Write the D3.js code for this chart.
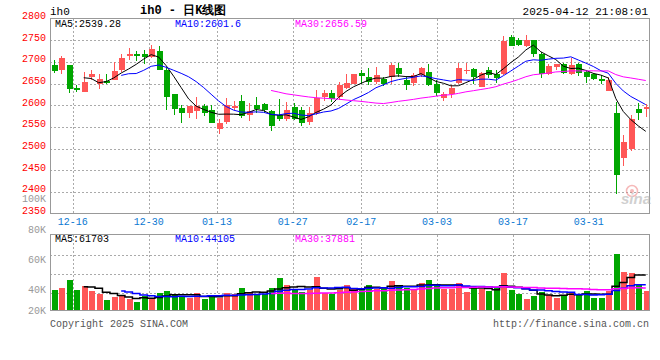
<!DOCTYPE html>
<html>
<head>
<meta charset="utf-8">
<script src="https://cdn.jsdelivr.net/npm/d3@7/dist/d3.min.js"></script>
<style>
  body { margin: 0; background: #fff; }
  text { font-family: "Liberation Mono", "DejaVu Sans Mono", monospace; font-size: 10px; }
</style>
</head>
<body>
<div id="container"></div>
<script>
/**
 * CONSTANTS
 * */
const width = 660,
  height = 360,
  box = { left: 50, right: 649.5, top: 18.5, bottom: 213.5, volTop: 234.5, volBottom: 310.5 }

const upColor = '#ff5656',
  downColor = '#00a600',
  gridColor = '#aaaaaa',
  frameColor = '#999999'

/**
 * DATA
 * */
const dates = [
  '12-11', '12-12', '12-13', '12-16', '12-17', '12-18', '12-19', '12-20', '12-23', '12-24',
  '12-25', '12-26', '12-27', '12-30', '12-31', '01-02', '01-03', '01-06', '01-07', '01-08',
  '01-09', '01-10', '01-13', '01-14', '01-15', '01-16', '01-17', '01-20', '01-21', '01-22',
  '01-23', '01-24', '01-27', '02-05', '02-06', '02-07', '02-10', '02-11', '02-12', '02-13',
  '02-14', '02-17', '02-18', '02-19', '02-20', '02-21', '02-24', '02-25', '02-26', '02-27',
  '02-28', '03-03', '03-04', '03-05', '03-06', '03-07', '03-10', '03-11', '03-12', '03-13',
  '03-14', '03-17', '03-18', '03-19', '03-20', '03-21', '03-24', '03-25', '03-26', '03-27',
  '03-28', '03-31', '04-01', '04-02', '04-03', '04-07', '04-08', '04-09', '04-10', '04-11'
]

const opens = [
  2692, 2682, 2692, 2639, 2631, 2665, 2650, 2656, 2659, 2682,
  2714, 2718, 2718, 2712, 2725, 2682, 2625, 2593, 2582, 2587,
  2599, 2588, 2545, 2561, 2594, 2609, 2578, 2600, 2602, 2586,
  2577, 2567, 2595, 2588, 2562, 2581, 2619, 2627, 2619, 2640,
  2650, 2675, 2665, 2654, 2661, 2664, 2685, 2659, 2652, 2669,
  2677, 2650, 2617, 2625, 2652, 2679, 2683, 2642, 2682, 2671,
  2671, 2758, 2750, 2736, 2750, 2719, 2671, 2688, 2694, 2671,
  2696, 2677, 2671, 2661, 2632, 2582, 2477, 2498, 2591, 2592
]
const highs = [
  2704, 2713, 2693, 2646, 2676, 2682, 2673, 2673, 2700, 2719,
  2731, 2724, 2727, 2738, 2736, 2688, 2626, 2600, 2599, 2619,
  2602, 2600, 2567, 2617, 2609, 2623, 2604, 2619, 2605, 2589,
  2615, 2608, 2605, 2596, 2595, 2636, 2636, 2636, 2654, 2671,
  2673, 2682, 2686, 2687, 2665, 2698, 2698, 2665, 2675, 2687,
  2695, 2658, 2631, 2646, 2698, 2698, 2686, 2677, 2688, 2682,
  2759, 2761, 2754, 2761, 2751, 2723, 2696, 2696, 2698, 2708,
  2697, 2681, 2675, 2669, 2665, 2608, 2531, 2577, 2605, 2602
]
const lows = [
  2675, 2673, 2628, 2631, 2631, 2659, 2638, 2648, 2658, 2677,
  2704, 2702, 2696, 2708, 2681, 2590, 2578, 2558, 2571, 2567,
  2575, 2558, 2533, 2557, 2588, 2571, 2564, 2582, 2581, 2541,
  2564, 2564, 2565, 2552, 2554, 2577, 2610, 2608, 2612, 2637,
  2648, 2648, 2646, 2648, 2644, 2650, 2664, 2635, 2644, 2665,
  2644, 2621, 2610, 2617, 2650, 2673, 2648, 2641, 2663, 2652,
  2669, 2736, 2737, 2735, 2712, 2663, 2669, 2681, 2673, 2670,
  2667, 2652, 2658, 2650, 2632, 2396, 2459, 2495, 2565, 2573
]
const closes = [
  2679, 2710, 2638, 2636, 2653, 2671, 2661, 2651, 2678, 2710,
  2718, 2714, 2712, 2729, 2682, 2619, 2592, 2581, 2598, 2599,
  2581, 2559, 2558, 2600, 2598, 2575, 2586, 2591, 2588, 2552,
  2567, 2590, 2567, 2559, 2583, 2617, 2628, 2615, 2646, 2652,
  2671, 2667, 2654, 2669, 2650, 2692, 2673, 2646, 2669, 2685,
  2646, 2628, 2625, 2639, 2686, 2682, 2665, 2675, 2669, 2663,
  2748, 2737, 2738, 2751, 2719, 2671, 2691, 2694, 2675, 2692,
  2675, 2665, 2660, 2655, 2659, 2438, 2515, 2567, 2582, 2596
]
const volumes = [
  35400, 39300, 52500, 35400, 42200, 33700, 28600, 18300, 23900, 25100,
  20000, 15400, 25100, 20000, 30800, 33700, 26800, 23900, 21200, 29800,
  20000, 25100, 22200, 30800, 28600, 38300, 32500, 28600, 28600, 39300,
  56400, 43900, 35400, 32500, 35400, 58100, 30800, 28200, 35400, 43900,
  37100, 39300, 43900, 37100, 37100, 50800, 43900, 39300, 37100, 47900,
  52500, 45700, 37100, 37100, 47900, 32500, 38300, 37100, 33700, 38300,
  65000, 35400, 28600, 20000, 25100, 32500, 26800, 22200, 25700, 32500,
  28000, 34200, 22200, 22200, 33700, 97000, 66200, 64500, 43900, 33700
]

const priceTicks = [2800, 2750, 2700, 2650, 2600, 2550, 2500, 2450, 2400, 2350]
const volTicks = [100000, 80000, 60000, 40000, 20000]
const dateTicks = ['12-16', '12-30', '01-13', '01-27', '02-17', '03-03', '03-17', '03-31']
const maNames = ['MA5', 'MA10', 'MA30']
const maPeriods = [5, 10, 30]
const maColors = ['#000000', '#0000ff', '#ff00ff']
const priceLegend = ['2539.28', '2601.6', '2656.59']
const volLegend = ['61703', '44105', '37881']

/**
 * HELPERS
 * */
// moving average of the read values, as the chart itself defines its MA lines
function movingAvg(values, n) {
  return values.map((v, i) => i < n - 1 ? null : d3.mean(values.slice(i - n + 1, i + 1)))
}

const svg = d3.select('#container')
  .append('svg')
  .attr('width', width)
  .attr('height', height)

// scales
const x = d3.scaleBand().domain(dates).range([box.left, box.right])
const xGrid = d3.scalePoint().domain(dates).range([box.left, box.right])
const xc = d => x(d) + x.bandwidth() / 2

const y = d3.scaleLinear().domain([2350, 2800]).range([box.bottom, box.top])
const yVol = d3.scaleLinear().domain([0, 131000]).range([box.volBottom, box.volTop])
// the volume tick labels are laid out on their own spacing in the original
const yVolLabel = d3.scaleLinear().domain([40000, 80000]).range([290.7, 230])

const candles = dates.map((d, i) => ({
  date: d, open: opens[i], high: highs[i], low: lows[i], close: closes[i], vol: volumes[i],
  up: closes[i] >= opens[i]
}))

/**
 * GRIDS
 * */
const grid = svg.append('g')
  .attr('stroke', gridColor)
  .attr('stroke-dasharray', '2,2')
  .attr('shape-rendering', 'crispEdges')

grid.selectAll('.hgrid')
  .data(priceTicks.slice(1, -1))
  .join('line')
  .attr('x1', box.left).attr('x2', box.right)
  .attr('y1', d => Math.round(y(d)) + 0.5).attr('y2', d => Math.round(y(d)) + 0.5)

grid.selectAll('.vgrid')
  .data(dateTicks)
  .join('line')
  .attr('x1', d => Math.round(xGrid(d)) + 0.5).attr('x2', d => Math.round(xGrid(d)) + 0.5)
  .attr('y1', box.top).attr('y2', box.bottom)

const volGridRows = [1, 2, 3]
grid.selectAll('.vhgrid')
  .data(volGridRows)
  .join('line')
  .attr('x1', box.left).attr('x2', box.right)
  .attr('y1', d => Math.round(box.volTop + (box.volBottom - box.volTop) * d / 4) + 1.5)
  .attr('y2', d => Math.round(box.volTop + (box.volBottom - box.volTop) * d / 4) + 1.5)

grid.selectAll('.vvgrid')
  .data(dateTicks)
  .join('line')
  .attr('x1', d => Math.round(xGrid(d)) + 0.5).attr('x2', d => Math.round(xGrid(d)) + 0.5)
  .attr('y1', box.volTop).attr('y2', box.volBottom)

/**
 * CANDLES
 * */
const bodyW = 6
const cg = svg.append('g').attr('shape-rendering', 'crispEdges')
cg.selectAll('.wick')
  .data(candles)
  .join('line')
  .attr('x1', d => Math.round(xc(d.date)) + 0.5)
  .attr('x2', d => Math.round(xc(d.date)) + 0.5)
  .attr('y1', d => y(d.high))
  .attr('y2', d => y(d.low))
  .attr('stroke', d => d.up ? upColor : downColor)

cg.selectAll('.body')
  .data(candles)
  .join('rect')
  .attr('x', d => Math.round(xc(d.date)) + 0.5 - bodyW / 2)
  .attr('y', d => y(Math.max(d.open, d.close)))
  .attr('width', bodyW)
  .attr('height', d => Math.max(1.5, Math.abs(y(d.open) - y(d.close))))
  .attr('fill', d => d.up ? upColor : downColor)

// price moving averages
maPeriods.forEach((n, k) => {
  const ma = movingAvg(closes, n)
  const line = d3.line()
    .defined(d => d[1] != null)
    .x(d => xc(d[0]))
    .y(d => y(d[1]))
  svg.append('path')
    .datum(dates.map((d, i) => [d, ma[i]]))
    .attr('d', line)
    .attr('fill', 'none')
    .attr('stroke', maColors[k])
    .attr('stroke-width', 1)
})

/**
 * VOLUME
 * */
const volW = 6
const vg = svg.append('g').attr('shape-rendering', 'crispEdges')
vg.selectAll('.vol')
  .data(candles)
  .join('rect')
  .attr('x', d => Math.round(xc(d.date)) + 0.5 - volW / 2)
  .attr('y', d => yVol(d.vol))
  .attr('width', volW)
  .attr('height', d => box.volBottom - yVol(d.vol))
  .attr('fill', d => d.up ? upColor : downColor)

maPeriods.forEach((n, k) => {
  const ma = movingAvg(volumes, n)
  const line = d3.line()
    .defined(d => d[1] != null)
    .curve(d3.curveStep)
    .x(d => xc(d[0]))
    .y(d => yVol(d[1]))
  svg.append('path')
    .datum(dates.map((d, i) => [d, ma[i]]))
    .attr('d', line)
    .attr('fill', 'none')
    .attr('stroke', maColors[k])
    .attr('stroke-width', 1.5)
})

/**
 * FRAMES
 * */
const frames = svg.append('g')
  .attr('fill', 'none')
  .attr('stroke', frameColor)
  .attr('shape-rendering', 'crispEdges')
frames.append('rect')
  .attr('x', box.left).attr('y', box.top)
  .attr('width', box.right - box.left).attr('height', box.bottom - box.top)
frames.append('rect')
  .attr('x', box.left).attr('y', box.volTop)
  .attr('width', box.right - box.left).attr('height', box.volBottom - box.volTop)

/**
 * AXIS LABELS
 * */
svg.selectAll('.plabel')
  .data(priceTicks)
  .join('text')
  .attr('x', 46)
  .attr('y', d => y(d) - 2)
  .attr('text-anchor', 'end')
  .attr('dominant-baseline', 'middle')
  .attr('fill', '#ff0000')
  .text(d => d)

svg.selectAll('.vlabel')
  .data(volTicks)
  .join('text')
  .attr('x', 46)
  .attr('y', d => Math.min(yVolLabel(d), 311))
  .attr('text-anchor', 'end')
  .attr('dominant-baseline', 'middle')
  .attr('fill', '#999999')
  .text(d => (d / 1000) + 'K')

svg.selectAll('.dlabel')
  .data(dateTicks)
  .join('text')
  .attr('x', d => xGrid(d))
  .attr('y', 222)
  .attr('text-anchor', 'middle')
  .attr('dominant-baseline', 'middle')
  .attr('fill', '#0a78d2')
  .text(d => d)

// legends
const legendX = [55, 175, 295]
svg.selectAll('.plegend')
  .data(maNames)
  .join('text')
  .attr('x', (d, i) => legendX[i])
  .attr('y', 24.5)
  .attr('dominant-baseline', 'middle')
  .attr('fill', (d, i) => maColors[i])
  .text((d, i) => d + ':' + priceLegend[i])

svg.selectAll('.vlegend')
  .data(maNames)
  .join('text')
  .attr('x', (d, i) => legendX[i])
  .attr('y', 239)
  .attr('dominant-baseline', 'middle')
  .attr('fill', (d, i) => maColors[i])
  .text((d, i) => d + ':' + volLegend[i])

/**
 * HEADER / FOOTER
 * */
svg.append('text')
  .attr('x', 50).attr('y', 12)
  .attr('dominant-baseline', 'middle')
  .style('font-size', '11px')
  .text('ih0')

svg.append('text')
  .attr('x', 140).attr('y', 11)
  .attr('dominant-baseline', 'middle')
  .style('font-size', '12px')
  .style('font-weight', 'bold')
  .text('ih0 - 日K线图')

svg.append('text')
  .attr('x', 648).attr('y', 12)
  .attr('text-anchor', 'end')
  .attr('dominant-baseline', 'middle')
  .style('font-size', '11px')
  .text('2025-04-12 21:08:01')

svg.append('text')
  .attr('x', 50).attr('y', 324)
  .attr('dominant-baseline', 'middle')
  .attr('fill', '#555555')
  .text('Copyright 2025 SINA.COM')

svg.append('text')
  .attr('x', 649).attr('y', 324)
  .attr('text-anchor', 'end')
  .attr('dominant-baseline', 'middle')
  .attr('fill', '#555555')
  .text('http://finance.sina.com.cn')

// sina watermark
const wm = svg.append('g').attr('opacity', 0.55)
wm.append('circle')
  .attr('cx', 632).attr('cy', 191).attr('r', 5.5)
  .attr('fill', 'none').attr('stroke', '#f08080').attr('stroke-width', 1.5)
wm.append('circle')
  .attr('cx', 632).attr('cy', 191).attr('r', 2)
  .attr('fill', '#f08080')
wm.append('text')
  .attr('x', 636).attr('y', 204)
  .attr('text-anchor', 'middle')
  .style('font-family', 'Arial, "Liberation Sans", sans-serif')
  .style('font-size', '15px')
  .style('font-weight', 'bold')
  .style('font-style', 'italic')
  .attr('fill', '#aaaaaa')
  .text('sina')
</script>
</body>
</html>
